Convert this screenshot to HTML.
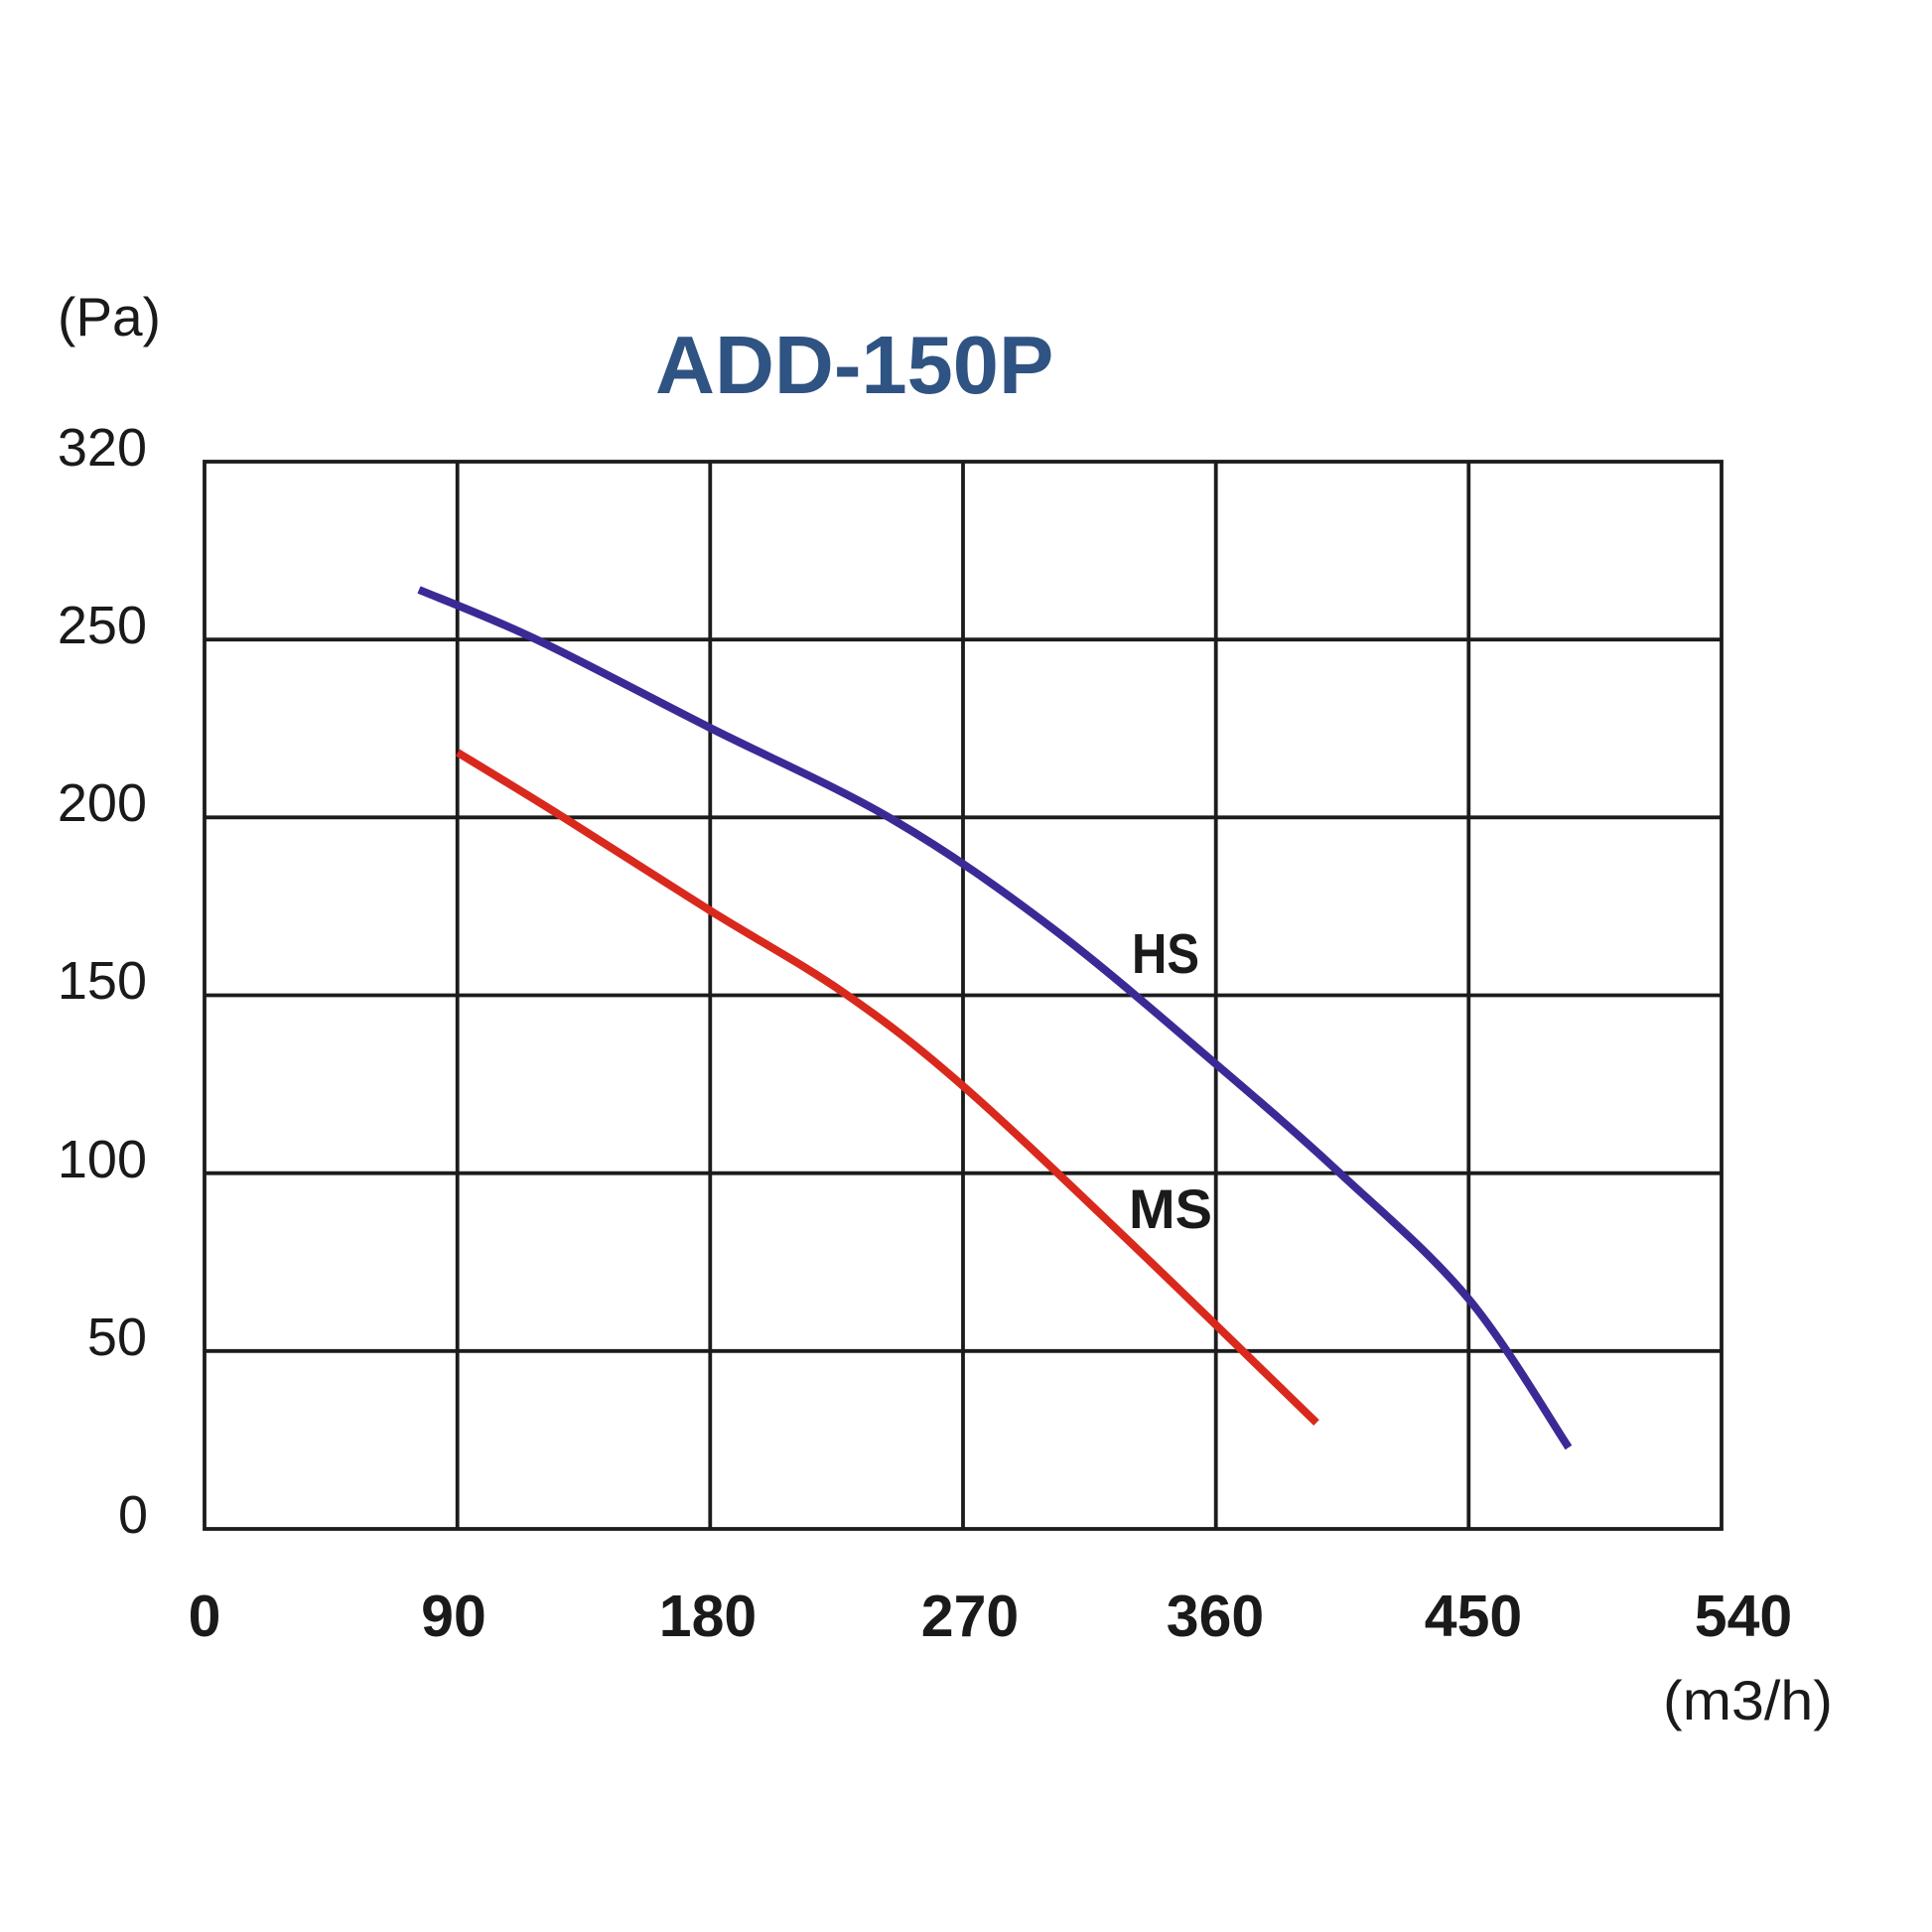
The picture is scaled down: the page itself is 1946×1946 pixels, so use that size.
<!DOCTYPE html>
<html>
<head>
<meta charset="utf-8">
<style>
  html, body { margin: 0; padding: 0; background: #ffffff; }
  svg { display: block; }
  text { font-family: "Liberation Sans", "DejaVu Sans", sans-serif; fill: #1a1a1a; }
</style>
</head>
<body>
<svg width="1946" height="1946" viewBox="0 0 1946 1946" xmlns="http://www.w3.org/2000/svg">
  <rect x="0" y="0" width="1946" height="1946" fill="#ffffff"/>

  <!-- Title -->
  <text x="660" y="396" font-size="83" font-weight="bold" style="fill:#2f5382">ADD-150P</text>

  <!-- Unit labels -->
  <text x="58" y="338" font-size="55">(Pa)</text>
  <text x="1675" y="1732" font-size="56" textLength="171" lengthAdjust="spacingAndGlyphs">(m3/h)</text>

  <!-- Grid -->
  <g stroke="#1c1c1c" stroke-width="3.8" fill="none">
    <rect x="206" y="465" width="1528" height="1075"/>
    <line x1="460.7" y1="465" x2="460.7" y2="1540"/>
    <line x1="715.3" y1="465" x2="715.3" y2="1540"/>
    <line x1="970" y1="465" x2="970" y2="1540"/>
    <line x1="1224.7" y1="465" x2="1224.7" y2="1540"/>
    <line x1="1479.3" y1="465" x2="1479.3" y2="1540"/>
    <line x1="206" y1="644.2" x2="1734" y2="644.2"/>
    <line x1="206" y1="823.3" x2="1734" y2="823.3"/>
    <line x1="206" y1="1002.5" x2="1734" y2="1002.5"/>
    <line x1="206" y1="1181.7" x2="1734" y2="1181.7"/>
    <line x1="206" y1="1360.8" x2="1734" y2="1360.8"/>
  </g>

  <!-- Y axis labels -->
  <g font-size="54" text-anchor="end">
    <text x="148" y="469">320</text>
    <text x="148" y="648">250</text>
    <text x="148" y="827">200</text>
    <text x="148" y="1006">150</text>
    <text x="148" y="1186">100</text>
    <text x="148" y="1365">50</text>
    <text x="149" y="1544">0</text>
  </g>

  <!-- X axis labels -->
  <g font-size="59" font-weight="bold" text-anchor="middle">
    <text x="206" y="1648">0</text>
    <text x="457" y="1648">90</text>
    <text x="713" y="1648">180</text>
    <text x="977" y="1648">270</text>
    <text x="1224" y="1648">360</text>
    <text x="1484" y="1648">450</text>
    <text x="1756" y="1648">540</text>
  </g>

  <!-- HS curve -->
  <path fill="none" stroke="#3b2a96" stroke-width="8" stroke-linejoin="round" stroke-linecap="butt"
    d="M422,594
       C441.7,602.3 491.2,620.8 540,644
       C588.8,667.2 655,702.7 715,733
       C775,763.3 842.5,792.3 900,826
       C957.5,859.7 1005.8,894 1060,935
       C1114.2,976 1176.7,1030.8 1225,1072
       C1273.3,1113.2 1307.7,1142.7 1350,1182
       C1392.3,1221.3 1440.7,1262 1479,1308
       C1517.3,1354 1563.2,1433 1580,1458"/>

  <!-- MS curve -->
  <path fill="none" stroke="#d9291d" stroke-width="8" stroke-linejoin="round" stroke-linecap="butt"
    d="M461,758
       C478.7,768.8 524.7,796.5 567,823
       C609.3,849.5 667.8,887.5 715,917
       C762.2,946.5 807.7,970.7 850,1000
       C892.3,1029.3 921.2,1051.3 969,1093
       C1016.8,1134.7 1077.5,1193.3 1137,1250
       C1196.5,1306.7 1294.5,1402.5 1326,1433"/>

  <!-- Series labels -->
  <text x="1140" y="980" font-size="57" font-weight="bold" textLength="68" lengthAdjust="spacingAndGlyphs">HS</text>
  <text x="1137" y="1237" font-size="56" font-weight="bold" textLength="84" lengthAdjust="spacingAndGlyphs">MS</text>
</svg>
</body>
</html>
